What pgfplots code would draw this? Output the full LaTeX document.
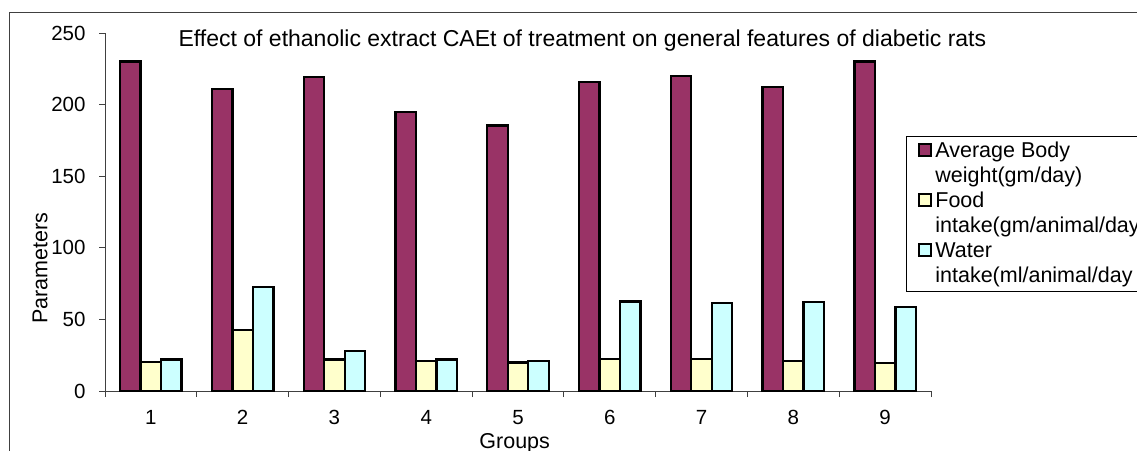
\documentclass[border=0pt]{standalone}
\usepackage{fontspec}
\setmainfont{Liberation Sans}
\usepackage{pgfplots}
\pgfplotsset{compat=1.18}

\definecolor{bodyw}{HTML}{993366}
\definecolor{food}{HTML}{FFFFCC}
\definecolor{water}{HTML}{CCFFFF}
\definecolor{frame}{HTML}{404040}

\newcommand{\tickfont}{\fontsize{20.5}{24}\selectfont}
\newcommand{\labfont}{\fontsize{21.5}{25}\selectfont}
\newcommand{\titfont}{\fontsize{23}{27}\selectfont}

\begin{document}
\begin{tikzpicture}[x=1pt,y=1pt]
\useasboundingbox (0,0) rectangle (1137,-450);
\draw[frame, line width=1pt] (9,-470) -- (9,-12) -- (1160,-12);
\begin{axis}[
    at={(105pt,-391pt)}, anchor=south west,
    scale only axis, width=826pt, height=358pt,
    /pgf/number format/assume math mode=true,
    font=\labfont,
    ybar, bar width=20.5pt,
    xmin=0.5, xmax=9.5, ymin=0, ymax=250,
    xtick={1,...,9},
    minor xtick={0.5,1.5,...,9.5},
    ytick={0,50,...,250},
    axis x line*=bottom, axis y line*=left,
    axis line style={frame, line width=1pt},
    every tick/.append style={frame, line width=1pt},
    every major x tick/.append style={draw=none},
    tick align=outside,
    major tick length=6pt, minor tick length=6pt,
    xticklabel style={font=\tickfont, yshift=-10pt},
    yticklabel style={font=\tickfont, xshift=-10pt},
    xlabel={Groups},
    xlabel style={at={(axis description cs:0.496,-0.1606)}, anchor=base, font=\labfont},
    ylabel={Parameters},
    ylabel style={at={(axis description cs:-0.0787,0.343)}, anchor=center, font=\labfont},
    title={Effect of ethanolic extract CAEt of treatment on general features of diabetic rats},
    title style={at={(axis description cs:0.578,0.945)}, anchor=base, font=\titfont},
    legend style={at={(axis description cs:0.9697,0.7123)}, anchor=north west,
        draw=black, line width=0.8pt, fill=white,
        inner xsep=12pt, inner ysep=6pt, row sep=7pt, column sep=3pt,
        font=\labfont,
        nodes={inner sep=0pt, text height=15pt, text depth=3pt, anchor=base west}},
    legend cell align=left,
    legend image code/.code={\draw[#1, line width=2pt, draw=black] (0pt,1.5pt) rectangle (12pt,13pt);},
]
\addplot[forget plot, bar shift=-20.5pt, fill=bodyw, draw=black, line width=2.3pt] coordinates {
 (1,230) (2,211) (3,219.5) (4,195) (5,185.5) (6,215.8) (7,220) (8,212.3) (9,230)};
\addplot[forget plot, bar shift=0pt, fill=food, draw=black, line width=2.3pt] coordinates {
 (1,20.5) (2,42.6) (3,22) (4,21) (5,20) (6,22.3) (7,22.3) (8,21) (9,19.8)};
\addplot[forget plot, bar shift=20.5pt, fill=water, draw=black, line width=2.3pt] coordinates {
 (1,22) (2,72.4) (3,28) (4,22) (5,21) (6,62.6) (7,61.7) (8,62.2) (9,58.7)};
\addlegendimage{fill=bodyw}
\addlegendentry{Average Body}
\addlegendimage{empty legend}
\addlegendentry{weight(gm/day)}
\addlegendimage{fill=food}
\addlegendentry{Food}
\addlegendimage{empty legend}
\addlegendentry{intake(gm/animal/day}
\addlegendimage{fill=water}
\addlegendentry{Water}
\addlegendimage{empty legend}
\addlegendentry{intake(ml/animal/day}
\end{axis}
\end{tikzpicture}
\end{document}
